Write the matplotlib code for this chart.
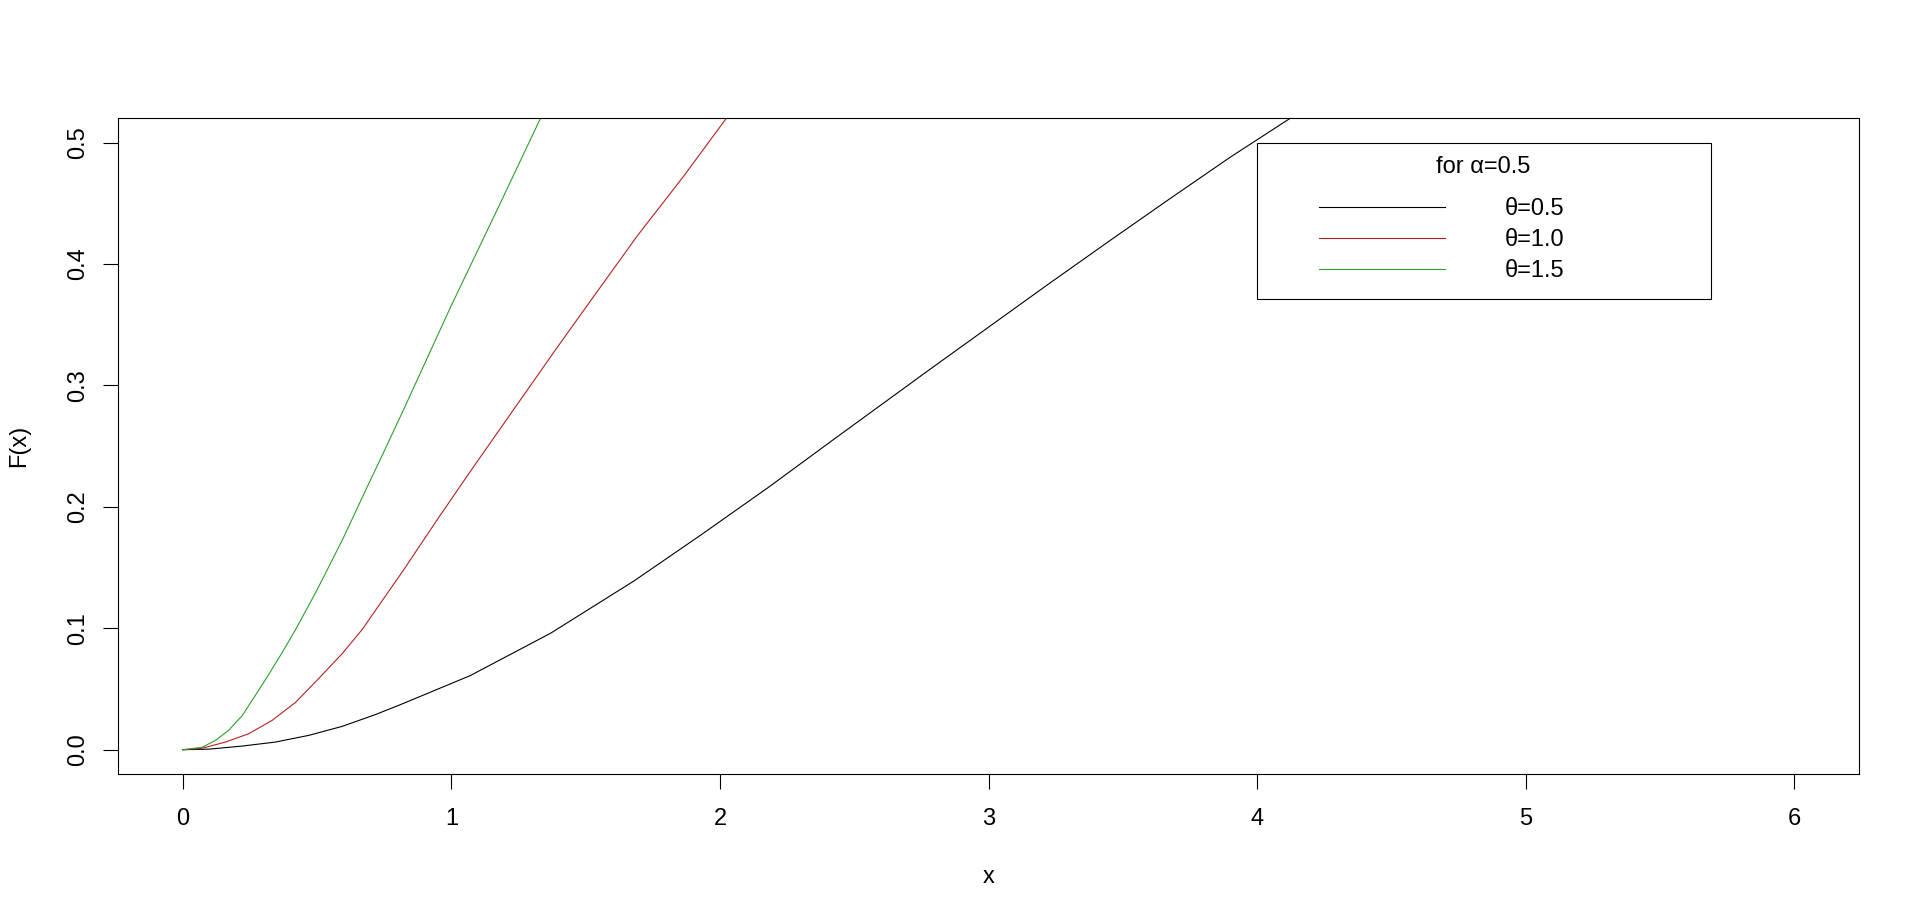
import matplotlib
matplotlib.use("Agg")
import matplotlib.pyplot as plt
from matplotlib.patches import Rectangle

# ---- data ----
black_x = [0.0, 0.10, 0.221, 0.345, 0.469, 0.593, 0.717, 0.82, 1.07, 1.37, 1.68,
           1.93, 2.18, 2.42, 2.78, 3.00, 3.22, 3.45, 3.67, 3.90, 4.13]
black_y = [0.0, 0.0005, 0.003, 0.0063, 0.0118, 0.0192, 0.0289, 0.038, 0.061, 0.096,
           0.139, 0.177, 0.216, 0.255, 0.313, 0.348, 0.383, 0.419, 0.453, 0.488,
           0.521]

red_x = [0.0, 0.072, 0.159, 0.246, 0.333, 0.420, 0.506, 0.593, 0.668, 0.715, 0.822,
         0.946, 1.07, 1.244, 1.393, 1.542, 1.691, 1.865, 2.026]
red_y = [0.0, 0.0012, 0.0063, 0.0132, 0.0242, 0.039, 0.0586, 0.079, 0.099, 0.114,
         0.148, 0.189, 0.229, 0.284, 0.331, 0.377, 0.4228, 0.4724, 0.5207]

green_x = [0.0, 0.072, 0.122, 0.171, 0.221, 0.271, 0.320, 0.370, 0.420, 0.484,
           0.524, 0.599, 0.673, 0.748, 0.822, 0.996, 1.182, 1.334]
green_y = [0.0, 0.002, 0.0077, 0.016, 0.028, 0.045, 0.062, 0.080, 0.099, 0.125,
           0.142, 0.175, 0.210, 0.245, 0.280, 0.364, 0.450, 0.521]

series_labels = ["θ=0.5", "θ=1.0", "θ=1.5"]
legend_title = "for α=0.5"
x_ticks = [0, 1, 2, 3, 4, 5, 6]
y_ticks = [0.0, 0.1, 0.2, 0.3, 0.4, 0.5]
y_ticklabels = ["0.0", "0.1", "0.2", "0.3", "0.4", "0.5"]

colors = ["black", "#B22222", "#2CA02C"]

plt.rcParams["font.family"] = ["Liberation Sans", "DejaVu Sans"]
FS = 17.0
FS_PX = FS * 100 / 72

W, H = 1920, 921
fig = plt.figure(figsize=(W / 100, H / 100), dpi=100)
fig.patch.set_facecolor("white")

# axes box in pixels
L, R_, T, B = 118.3, 1858.8, 118.3, 774.0
ax = fig.add_axes([L / W, 1 - B / H, (R_ - L) / W, (B - T) / H])

lw = 0.8
l1, = ax.plot(black_x, black_y, color=colors[0], lw=lw)
l2, = ax.plot(red_x, red_y, color=colors[1], lw=lw)
l3, = ax.plot(green_x, green_y, color=colors[2], lw=lw)

ax.set_xlim(-0.24, 6.24)
ax.set_ylim(-0.02, 0.52)
ax.set_xticks(x_ticks)
ax.set_xticklabels([str(v) for v in x_ticks])
ax.set_yticks(y_ticks)
ax.set_yticklabels(y_ticklabels)

for s in ax.spines.values():
    s.set_linewidth(0.8)
    s.set_color("black")

ax.tick_params(axis="both", direction="out", length=10.8, width=0.8,
               labelsize=FS, colors="black")
ax.tick_params(axis="x", pad=14.0)
ax.tick_params(axis="y", pad=10.5, labelrotation=90)
for lab in ax.get_yticklabels():
    lab.set_va("center")

ax.set_xlabel("x", fontsize=FS)
ax.set_ylabel("F(x)", fontsize=FS)
ax.xaxis.label.set_va("center")
ax.yaxis.label.set_va("center")
ax.xaxis.set_label_coords(0.5, (B - 877.0) / (B - T))
ax.yaxis.set_label_coords((19.0 - L) / (R_ - L), 0.5)

# legend frame (pixels -> figure fraction)
bx0, bx1, by0, by1 = 1257.3, 1710.7, 142.7, 299.3
rect = Rectangle((bx0 / W, 1 - by1 / H), (bx1 - bx0) / W, (by1 - by0) / H,
                 transform=fig.transFigure, facecolor="white", edgecolor="black",
                 linewidth=0.8, clip_on=False, zorder=4)
ax.add_patch(rect)

leg = ax.legend([l1, l2, l3], series_labels, loc="upper left",
                bbox_to_anchor=(1319.0 / W, 1 - 198.0 / H),
                bbox_transform=fig.transFigure, frameon=False, fontsize=FS,
                borderpad=0, borderaxespad=0, handlelength=125.7 / FS_PX,
                handletextpad=60.0 / FS_PX, labelspacing=0.39)
leg.set_zorder(5)

ax.text(1482.7 / W, 1 - 167.0 / H, legend_title, transform=fig.transFigure,
        ha="center", va="center", fontsize=FS, zorder=6)

fig.savefig("out.png", dpi=100)
